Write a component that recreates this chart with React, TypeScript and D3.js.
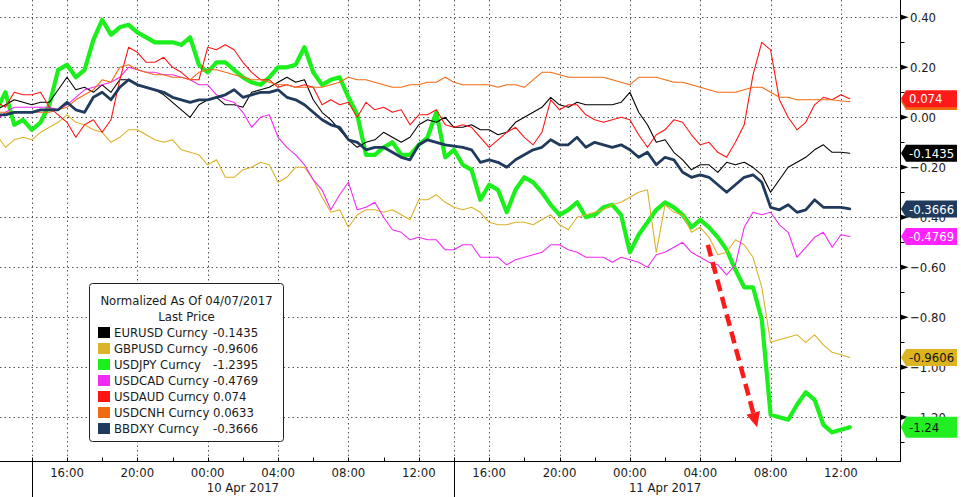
import React from 'react';
import * as d3 from 'd3';

// ---- data (30-minute samples starting 9 Apr 2017 12:00) ----
const START_UTC = Date.UTC(2017, 3, 9, 12, 0);
const STEP_MINUTES = 30;

const SERIES_NAMES = ['EURUSD Curncy', 'GBPUSD Curncy', 'USDJPY Curncy', 'USDCAD Curncy', 'USDAUD Curncy', 'USDCNH Curncy', 'BBDXY Curncy'];
const LAST_PRICE = ['-0.1435', '-0.9606', '-1.2395', '-0.4769', '0.074', '0.0633', '-0.3666'];
// USDCNH tag sits fully hidden behind the USDAUD tag, so its label is empty
const TAG_TEXT = ['-0.1435', '-0.9606', '-1.24', '-0.4769', '0.074', '', '-0.3666'];

const EURUSD = [
  0.03, 0.05, 0.07, 0.06, 0.05, 0.06, 0.06, 0.11, 0.16, 0.11,
  0.12, 0.10, 0.13, 0.10, 0.15, 0.15, 0.13, 0.12, 0.11, 0.09,
  0.06, 0.03, 0.00, 0.05, 0.07, 0.08, 0.05, 0.05, 0.04, 0.10,
  0.11, 0.12, 0.14, 0.16, 0.14, 0.15, 0.07, 0.02, -0.01, -0.05,
  -0.09, -0.12, -0.10, -0.09, -0.06, -0.08, -0.10, -0.08, -0.03, -0.01,
  -0.02, 0.00, -0.04, -0.04, -0.03, -0.05, -0.05, -0.07, -0.06, -0.02,
  0.00, 0.02, 0.04, 0.08, 0.05, 0.04, 0.06, 0.05, 0.05, 0.05,
  0.05, 0.06, 0.10, 0.02, -0.03, -0.10, -0.09, -0.14, -0.17, -0.21,
  -0.19, -0.19, -0.22, -0.18, -0.19, -0.18, -0.20, -0.23, -0.30, -0.25,
  -0.20, -0.18, -0.16, -0.13, -0.11, -0.14, -0.14, -0.1435,
];
const GBPUSD = [
  -0.07, -0.12, -0.09, -0.08, -0.09, -0.06, -0.04, -0.02, 0.01, -0.02,
  -0.03, -0.05, -0.06, -0.10, -0.08, -0.05, -0.05, -0.07, -0.09, -0.10,
  -0.09, -0.13, -0.14, -0.15, -0.19, -0.17, -0.24, -0.24, -0.21, -0.20,
  -0.18, -0.19, -0.26, -0.24, -0.20, -0.20, -0.25, -0.32, -0.38, -0.37,
  -0.44, -0.39, -0.37, -0.37, -0.38, -0.37, -0.39, -0.41, -0.33, -0.33,
  -0.31, -0.34, -0.36, -0.37, -0.36, -0.38, -0.42, -0.43, -0.43, -0.42,
  -0.42, -0.43, -0.41, -0.39, -0.43, -0.45, -0.40, -0.39, -0.38, -0.37,
  -0.35, -0.34, -0.32, -0.30, -0.29, -0.54, -0.35, -0.38, -0.39, -0.46,
  -0.44, -0.48, -0.55, -0.54, -0.49, -0.51, -0.56, -0.68, -0.90, -0.89,
  -0.88, -0.87, -0.90, -0.87, -0.91, -0.94, -0.95, -0.9606,
];
const USDJPY = [
  0.03, 0.10, -0.03, -0.01, -0.05, -0.02, 0.05, 0.19, 0.21, 0.16,
  0.19, 0.31, 0.39, 0.33, 0.36, 0.37, 0.34, 0.32, 0.30, 0.30,
  0.30, 0.29, 0.32, 0.21, 0.18, 0.22, 0.22, 0.19, 0.16, 0.14,
  0.13, 0.16, 0.20, 0.20, 0.21, 0.28, 0.18, 0.13, 0.15, 0.16,
  0.08, 0.01, -0.15, -0.15, -0.12, -0.10, -0.15, -0.15, -0.11, -0.08,
  0.02, -0.16, -0.13, -0.19, -0.21, -0.33, -0.27, -0.29, -0.38, -0.29,
  -0.24, -0.26, -0.30, -0.35, -0.39, -0.37, -0.34, -0.40, -0.39, -0.36,
  -0.35, -0.39, -0.54, -0.47, -0.42, -0.37, -0.34, -0.36, -0.39, -0.44,
  -0.41, -0.44, -0.48, -0.53, -0.61, -0.68, -0.68, -0.81, -1.19, -1.20,
  -1.21, -1.15, -1.10, -1.13, -1.23, -1.26, -1.25, -1.2395,
];
const USDCAD = [
  -0.01, 0.02, 0.04, 0.04, 0.04, 0.04, 0.04, 0.03, 0.05, 0.08,
  0.11, 0.12, 0.13, 0.14, 0.16, 0.20, 0.19, 0.18, 0.18, 0.17,
  0.17, 0.16, 0.15, 0.13, 0.13, 0.09, 0.07, 0.06, 0.02, -0.04,
  0.00, 0.01, -0.08, -0.12, -0.15, -0.19, -0.25, -0.29, -0.37, -0.31,
  -0.26, -0.37, -0.36, -0.34, -0.40, -0.45, -0.46, -0.49, -0.48, -0.49,
  -0.49, -0.53, -0.53, -0.51, -0.51, -0.56, -0.56, -0.56, -0.59, -0.57,
  -0.56, -0.55, -0.54, -0.51, -0.51, -0.53, -0.54, -0.56, -0.56, -0.56,
  -0.58, -0.56, -0.57, -0.58, -0.60, -0.55, -0.54, -0.52, -0.50, -0.54,
  -0.56, -0.58, -0.59, -0.63, -0.59, -0.44, -0.38, -0.39, -0.38, -0.43,
  -0.46, -0.56, -0.52, -0.48, -0.46, -0.52, -0.47, -0.4769,
];
const USDAUD = [
  0.06, 0.04, 0.10, 0.09, 0.09, 0.10, 0.04, 0.01, -0.02, -0.08,
  -0.03, -0.01, -0.06, -0.01, 0.15, 0.28, 0.26, 0.22, 0.22, 0.24,
  0.20, 0.18, 0.15, 0.15, 0.28, 0.27, 0.29, 0.27, 0.22, 0.18,
  0.15, 0.15, 0.12, 0.13, 0.12, 0.13, 0.12, 0.05, 0.07, 0.05,
  0.06, 0.00, 0.06, 0.03, 0.04, 0.02, 0.03, -0.03, 0.01, 0.01,
  0.03, -0.03, -0.04, -0.03, -0.04, -0.08, -0.12, -0.09, -0.06, -0.04,
  -0.08, -0.11, -0.06, 0.07, 0.03, 0.05, 0.05, 0.01, -0.01, -0.02,
  -0.01, 0.00, -0.01, -0.07, -0.12, -0.07, -0.05, -0.01, -0.02, -0.07,
  -0.11, -0.10, -0.14, -0.16, -0.10, -0.03, 0.17, 0.30, 0.27, 0.07,
  0.00, -0.05, -0.02, 0.05, 0.08, 0.07, 0.09, 0.074,
];
const USDCNH = [
  0.02, 0.02, 0.02, 0.02, 0.02, 0.02, 0.02, 0.03, 0.04, 0.07,
  0.09, 0.11, 0.15, 0.14, 0.20, 0.21, 0.19, 0.18, 0.17, 0.17,
  0.16, 0.16, 0.15, 0.18, 0.19, 0.19, 0.18, 0.17, 0.16, 0.15,
  0.15, 0.14, 0.13, 0.13, 0.12, 0.12, 0.12, 0.12, 0.13, 0.14,
  0.16, 0.15, 0.15, 0.14, 0.13, 0.12, 0.12, 0.13, 0.13, 0.14,
  0.14, 0.16, 0.14, 0.13, 0.13, 0.13, 0.13, 0.12, 0.13, 0.13,
  0.12, 0.15, 0.18, 0.18, 0.17, 0.16, 0.16, 0.16, 0.16, 0.16,
  0.15, 0.14, 0.13, 0.16, 0.16, 0.16, 0.15, 0.14, 0.14, 0.13,
  0.12, 0.11, 0.10, 0.10, 0.10, 0.11, 0.12, 0.12, 0.10, 0.08,
  0.08, 0.07, 0.07, 0.07, 0.07, 0.07, 0.065, 0.0633,
];
const BBDXY = [
  0.01, 0.01, 0.02, 0.02, 0.02, 0.03, 0.03, 0.03, 0.06, 0.03,
  0.02, 0.08, 0.10, 0.07, 0.12, 0.15, 0.13, 0.12, 0.11, 0.10,
  0.08, 0.07, 0.06, 0.07, 0.07, 0.08, 0.09, 0.11, 0.08, 0.09,
  0.10, 0.10, 0.11, 0.08, 0.07, 0.05, 0.02, -0.01, -0.03, -0.04,
  -0.09, -0.10, -0.13, -0.12, -0.12, -0.14, -0.16, -0.17, -0.11, -0.09,
  -0.10, -0.11, -0.115, -0.12, -0.13, -0.18, -0.17, -0.18, -0.20, -0.17,
  -0.15, -0.13, -0.12, -0.09, -0.11, -0.11, -0.08, -0.12, -0.10, -0.11,
  -0.12, -0.11, -0.13, -0.16, -0.14, -0.19, -0.16, -0.17, -0.22, -0.24,
  -0.23, -0.24, -0.27, -0.30, -0.27, -0.24, -0.23, -0.26, -0.36, -0.37,
  -0.35, -0.38, -0.37, -0.33, -0.36, -0.36, -0.36, -0.3666,
];
const SERIES = [EURUSD, GBPUSD, USDJPY, USDCAD, USDAUD, USDCNH, BBDXY];

const Y_TICKS = [0.4, 0.2, 0, -0.2, -0.4, -0.6, -0.8, -1.0, -1.2];
const Y_MINOR = [0.3, 0.1, -0.1, -0.3, -0.5, -0.7, -0.9, -1.1, -1.3];
const X_MAJOR = [
  Date.UTC(2017, 3, 9, 16), Date.UTC(2017, 3, 9, 20), Date.UTC(2017, 3, 10, 0),
  Date.UTC(2017, 3, 10, 4), Date.UTC(2017, 3, 10, 8), Date.UTC(2017, 3, 10, 12),
  Date.UTC(2017, 3, 10, 16), Date.UTC(2017, 3, 10, 20), Date.UTC(2017, 3, 11, 0),
  Date.UTC(2017, 3, 11, 4), Date.UTC(2017, 3, 11, 8), Date.UTC(2017, 3, 11, 12),
];
const X_MINOR = [
  Date.UTC(2017, 3, 9, 14), Date.UTC(2017, 3, 9, 18), Date.UTC(2017, 3, 9, 22),
  Date.UTC(2017, 3, 10, 2), Date.UTC(2017, 3, 10, 6), Date.UTC(2017, 3, 10, 10),
  Date.UTC(2017, 3, 10, 14), Date.UTC(2017, 3, 10, 18), Date.UTC(2017, 3, 10, 22),
  Date.UTC(2017, 3, 11, 2), Date.UTC(2017, 3, 11, 6), Date.UTC(2017, 3, 11, 10),
  Date.UTC(2017, 3, 11, 14),
];
const DAY_BOUNDS = [Date.UTC(2017, 3, 9, 14), Date.UTC(2017, 3, 10, 14)];
const DAY_LABEL_TIMES = [Date.UTC(2017, 3, 10, 2), Date.UTC(2017, 3, 11, 2)];
const DAY_LABELS = ['10 Apr 2017', '11 Apr 2017'];
const LEGEND_TITLE = 'Normalized As Of 04/07/2017';
const LEGEND_SUBTITLE = 'Last Price';
// annotation arrow (time, value)
const ARROW_FROM = { t: Date.UTC(2017, 3, 11, 4, 26), v: -0.51 };
const ARROW_TO = { t: Date.UTC(2017, 3, 11, 7, 14), v: -1.24 };

// ---- styles ----
const COLORS = ['#000000', '#dcb22a', '#1cf01c', '#f22af2', '#ff1414', '#f06a12', '#1f3a5c'];
const TAG_FILL = ['#000000', '#dcb422', '#22ee22', '#ff22ff', '#ff1a1a', '#f06a12', '#1f3a5c'];
const TAG_TEXT_COLOR = ['#ffffff', '#111111', '#111111', '#ffffff', '#ffffff', '#ffffff', '#ffffff'];
const WIDTHS = [1.1, 1.1, 4.2, 1.1, 1.1, 1.1, 2.8];
const DRAW_ORDER = [2, 0, 1, 3, 4, 5, 6];
const TAG_ORDER = [0, 1, 2, 3, 5, 4, 6];
const FONT = '"DejaVu Sans Condensed", "Liberation Sans", Arial, sans-serif';
const TEXT_COLOR = '#1a1a1a';

export default function App() {
  const W = 961, H = 497;
  const AX = 900.5;   // right axis line
  const AY = 461.5;   // bottom axis line

  const x = d3.scaleUtc()
    .domain([new Date(Date.UTC(2017, 3, 9, 12, 11, 30)), new Date(Date.UTC(2017, 3, 11, 15, 21, 24))])
    .range([0, 900]);
  const y = d3.scaleLinear().domain([0.4, -1.2]).range([17.3, 417.3]);
  const timeAt = (i: number) => new Date(START_UTC + i * STEP_MINUTES * 60000);
  const line = d3.line<number>().x((_, i) => x(timeAt(i))).y((d) => y(d));
  const fmtY = d3.format('.2f');
  const fmtX = d3.utcFormat('%H:%M');

  // arrow geometry
  const p0 = [x(new Date(ARROW_FROM.t)), y(ARROW_FROM.v)];
  const p1 = [x(new Date(ARROW_TO.t)), y(ARROW_TO.v)];
  const dx = p1[0] - p0[0], dy = p1[1] - p0[1];
  const len = Math.hypot(dx, dy);
  const ux = dx / len, uy = dy / len;
  const headLen = 15, headHalf = 7;
  const base = [p1[0] - ux * headLen, p1[1] - uy * headLen];
  const head = `M${p1[0]},${p1[1]} L${base[0] - uy * headHalf},${base[1] + ux * headHalf} L${base[0] + uy * headHalf},${base[1] - ux * headHalf} Z`;

  const legendX = 89.5, legendY = 283.5, legendW = 194, legendH = 158;

  return (
    <svg width={W} height={H} style={{ position: 'absolute', left: 0, top: 0, background: '#fff' }} fontFamily={FONT}>
      <defs>
        <clipPath id="plotclip"><rect x={0} y={0} width={900} height={461} /></clipPath>
      </defs>
      <rect x={0} y={0} width={W} height={H} fill="#ffffff" />

      {/* gridlines */}
      <g stroke="#555" strokeWidth={1} strokeDasharray="1.5,3">
        {Y_TICKS.map((v) => (
          <line key={'gy' + v} x1={0} x2={AX} y1={Math.round(y(v)) + 0.5} y2={Math.round(y(v)) + 0.5} />
        ))}
        {[...X_MAJOR, ...DAY_BOUNDS].map((t) => (
          <line key={'gx' + t} x1={Math.round(x(new Date(t))) + 0.5} x2={Math.round(x(new Date(t))) + 0.5} y1={0} y2={AY} />
        ))}
      </g>

      {/* series */}
      <g clipPath="url(#plotclip)" fill="none" strokeLinejoin="round" strokeLinecap="round">
        {DRAW_ORDER.map((k) => (
          <path key={SERIES_NAMES[k]} d={line(SERIES[k]) || ''} stroke={COLORS[k]} strokeWidth={WIDTHS[k]} />
        ))}
      </g>

      {/* annotation arrow */}
      <g>
        <line x1={p0[0]} y1={p0[1]} x2={base[0]} y2={base[1]} stroke="#ff1a1a" strokeWidth={4.5} strokeDasharray="12,6" />
        <path d={head} fill="#ff1a1a" />
      </g>

      {/* axes lines */}
      <line x1={AX} x2={AX} y1={0} y2={AY} stroke="#000" strokeWidth={1} />
      <line x1={0} x2={AX + 0.5} y1={AY} y2={AY} stroke="#000" strokeWidth={1} />

      {/* right axis ticks & labels */}
      {Y_MINOR.map((v) => (
        <line key={'my' + v} x1={AX} x2={AX + 4} y1={Math.round(y(v)) + 0.5} y2={Math.round(y(v)) + 0.5} stroke="#000" />
      ))}
      {Y_TICKS.map((v) => (
        <g key={'ty' + v}>
          <path d={`M${AX},${y(v) - 2.8} L${AX + 8},${y(v)} L${AX},${y(v) + 2.8} Z`} fill="#000" />
          <text x={910} y={y(v)} dy="0.35em" fontSize={13} fill={TEXT_COLOR}>{fmtY(v)}</text>
        </g>
      ))}

      {/* bottom axis ticks & labels */}
      {[...X_MAJOR, ...X_MINOR].map((t) => (
        <line key={'tx' + t} x1={Math.round(x(new Date(t))) + 0.5} x2={Math.round(x(new Date(t))) + 0.5} y1={AY - 4} y2={AY} stroke="#000" />
      ))}
      {X_MAJOR.map((t) => (
        <text key={'lx' + t} x={x(new Date(t))} y={472} dy="0.35em" textAnchor="middle" fontSize={13} fill={TEXT_COLOR}>{fmtX(new Date(t))}</text>
      ))}
      {DAY_BOUNDS.map((t) => (
        <line key={'db' + t} x1={Math.round(x(new Date(t))) + 0.5} x2={Math.round(x(new Date(t))) + 0.5} y1={AY} y2={H} stroke="#000" />
      ))}
      {DAY_LABEL_TIMES.map((t, i) => (
        <text key={'dl' + t} x={x(new Date(t))} y={487.5} dy="0.35em" textAnchor="middle" fontSize={13} fill={TEXT_COLOR}>{DAY_LABELS[i]}</text>
      ))}

      {/* last value tags */}
      {TAG_ORDER.map((k) => {
        const vals = SERIES[k];
        const cy = y(vals[vals.length - 1]);
        const h = k === 2 ? 21 : 17;
        const x0 = AX + 0.5, xb = AX + 5.5, x1 = 957;
        const d = `M${x0},${cy} L${xb},${cy - h / 2} L${x1},${cy - h / 2} L${x1},${cy + h / 2} L${xb},${cy + h / 2} Z`;
        return (
          <g key={'tag' + k}>
            <path d={d} fill={TAG_FILL[k]} />
            {TAG_TEXT[k] ? (
              <text x={909} y={cy} dy="0.36em" fontSize={13} fill={TAG_TEXT_COLOR[k]}>{TAG_TEXT[k]}</text>
            ) : null}
          </g>
        );
      })}

      {/* legend */}
      <g>
        <rect x={legendX} y={legendY} width={legendW} height={legendH} rx={3} fill="#fff" stroke="#222" strokeWidth={1} />
        <text x={legendX + legendW / 2} y={300.5} dy="0.35em" textAnchor="middle" fontSize={13} fill={TEXT_COLOR}>{LEGEND_TITLE}</text>
        <text x={legendX + legendW / 2} y={316.5} dy="0.35em" textAnchor="middle" fontSize={13} fill={TEXT_COLOR}>{LEGEND_SUBTITLE}</text>
        {SERIES_NAMES.map((name, k) => {
          const cy = 332.5 + k * 16;
          return (
            <g key={'lg' + k}>
              <rect x={98} y={cy - 5.5} width={12} height={11} fill={COLORS[k]} />
              <text x={114} y={cy} dy="0.35em" fontSize={13} fill={TEXT_COLOR}>{name}</text>
              <text x={213} y={cy} dy="0.35em" fontSize={13} fill={TEXT_COLOR}>{LAST_PRICE[k]}</text>
            </g>
          );
        })}
      </g>
    </svg>
  );
}
